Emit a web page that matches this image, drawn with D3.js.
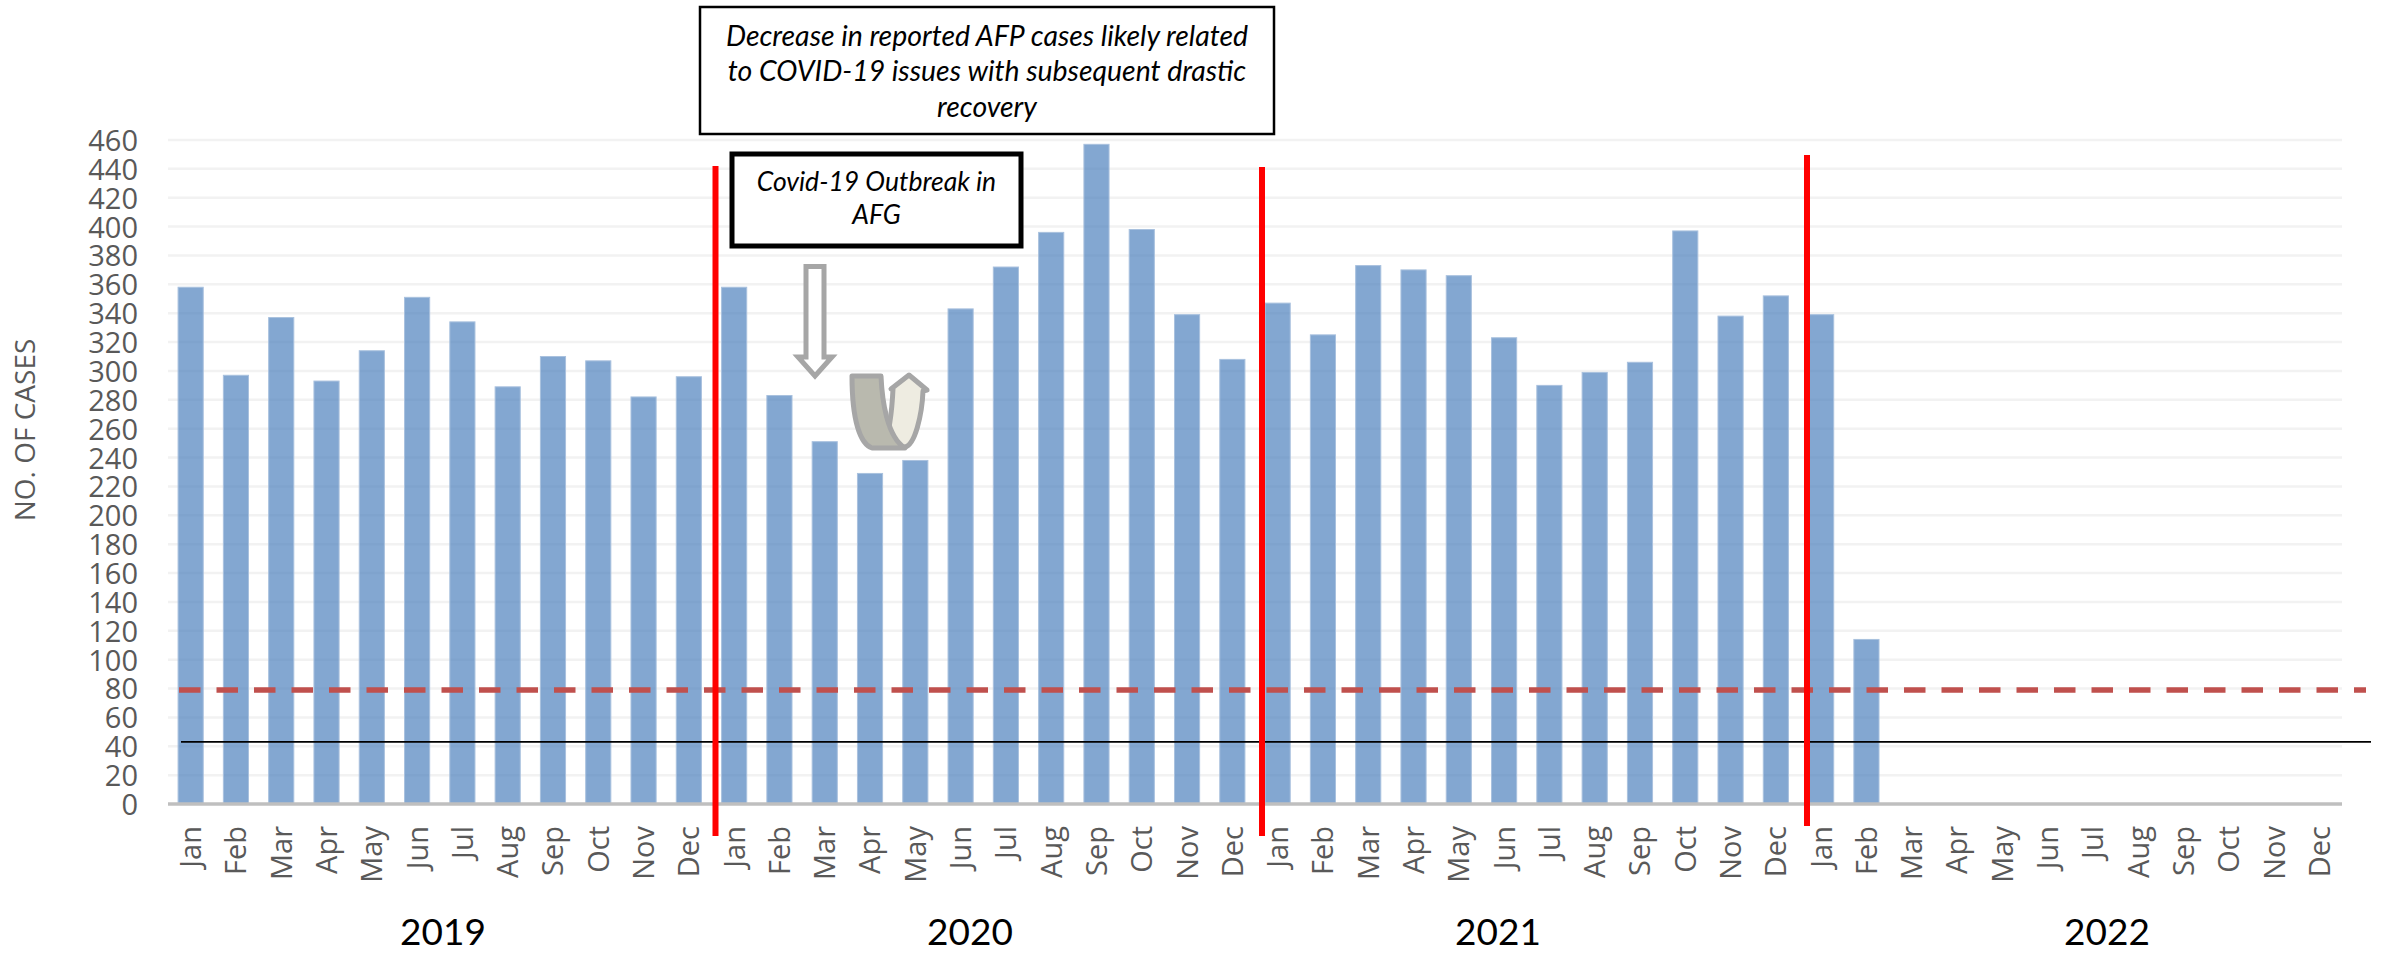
<!DOCTYPE html>
<html><head><meta charset="utf-8">
<script src="https://cdn.jsdelivr.net/npm/d3@7/dist/d3.min.js"></script>
<style>html,body{margin:0;padding:0;background:#fff}svg{display:block}</style></head>
<body><svg id="c" width="2389" height="953"></svg>
<script>
const months=["Jan","Feb","Mar","Apr","May","Jun","Jul","Aug","Sep","Oct","Nov","Dec"];
const years=["2019","2020","2021","2022"];
const cases2019=[358,297,337,293,314,351,334,289,310,307,282,296];
const cases2020=[358,283,251,229,238,343,372,396,457,398,339,308];
const cases2021=[347,325,373,370,366,323,290,299,306,397,338,352];
const cases2022=[339,114];
const dashedLevel=79, blackLevel=43;
const note1=["Decrease in reported AFP cases likely related","to COVID-19 issues with subsequent drastic","recovery"];
const note2=["Covid-19 Outbreak in","AFG"];
const rows=[];
years.forEach((yr,i)=>{const v=[cases2019,cases2020,cases2021,cases2022][i];
  months.forEach((m,j)=>rows.push({key:yr+"-"+m,m,yr,v:v[j]}));});
const svg=d3.select("#c");
const x=d3.scaleBand().domain(rows.map(d=>d.key)).range([168,2342]).paddingInner(0.445).paddingOuter(0.2225);
const y=d3.scaleLinear().domain([0,460]).range([804,140]);
const yTicks=d3.range(0,461,20);
svg.append("g").selectAll("line").data(yTicks.filter(d=>d>0)).join("line")
 .attr("x1",168).attr("x2",2342).attr("y1",d=>y(d)).attr("y2",d=>y(d)).attr("stroke","#f2f2f2").attr("stroke-width",2.5);
svg.append("g").selectAll("rect").data(rows.filter(d=>d.v!=null)).join("rect")
 .attr("x",d=>x(d.key)).attr("width",x.bandwidth()).attr("y",d=>y(d.v)).attr("height",d=>y(0)-y(d.v))
 .attr("fill","#4f81bd").attr("fill-opacity",0.7).attr("stroke","#a9c1de").attr("stroke-width",1);
svg.append("line").attr("x1",168).attr("x2",2342).attr("y1",y(0)).attr("y2",y(0)).attr("stroke","#bfbfbf").attr("stroke-width",3.5);
const gy=svg.append("g").attr("transform","translate(138,0)").call(d3.axisLeft(y).tickValues(yTicks).tickSize(0).tickPadding(0));
gy.select(".domain").remove();
gy.selectAll("text").attr("font-family","'Open Sans'").attr("font-size",29).attr("fill","#595959").attr("dy","0.36em");
const gx=svg.append("g").attr("transform","translate(0,826)").call(d3.axisBottom(x).tickSize(0).tickPadding(0).tickFormat(k=>k.split("-")[1]));
gx.select(".domain").remove();
gx.selectAll("text").attr("font-family","'Open Sans'").attr("font-size",29).attr("fill","#595959")
 .attr("transform","rotate(-90)").attr("text-anchor","end").attr("x",0).attr("y",0).attr("dy","0.36em");
svg.append("text").attr("transform","translate(25,430) rotate(-90)").attr("text-anchor","middle").attr("dy","0.36em")
 .attr("font-family","'Open Sans'").attr("font-size",28).attr("fill","#595959").text("NO. OF CASES");
svg.append("g").selectAll("text").data(years).join("text")
 .attr("x",(d,i)=>[443,970,1498,2107][i]).attr("y",945).attr("text-anchor","middle")
 .attr("font-family","Lato").attr("font-size",37).attr("fill","#000").text(d=>d);
svg.append("line").attr("x1",179).attr("x2",2366).attr("y1",y(dashedLevel)).attr("y2",y(dashedLevel))
 .attr("stroke","#c0504d").attr("stroke-width",5.5).attr("stroke-dasharray","21.5 16");
svg.append("line").attr("x1",181).attr("x2",2371).attr("y1",y(blackLevel)).attr("y2",y(blackLevel))
 .attr("stroke","#000").attr("stroke-width",1.8);
[[715.5,166,836],[1262,167,836],[1807,155,826]].forEach(([a,b,c])=>
 svg.append("line").attr("x1",a).attr("x2",a).attr("y1",b).attr("y2",c).attr("stroke","#ff0000").attr("stroke-width",6));
function box(x0,y0,x1,y1,sw,lines,ys,fs){
 svg.append("rect").attr("x",x0).attr("y",y0).attr("width",x1-x0).attr("height",y1-y0).attr("fill","#fff").attr("stroke","#000").attr("stroke-width",sw);
 svg.append("g").selectAll("text").data(lines).join("text").attr("x",(x0+x1)/2).attr("y",(d,i)=>ys[i]).attr("dy","0.35em")
  .attr("text-anchor","middle").attr("font-family","Lato").attr("font-style","italic").attr("font-size",fs).attr("fill","#000").text(d=>d);
}
box(700,7,1274,134,2.5,note1,[36,71,107],28.4);
box(732,154,1021,246,5,note2,[182,215],26.5);
svg.append("path").attr("d","M806,266.5H824V357H832L815,376L798,357H806Z").attr("fill","#fff").attr("stroke","#a6a6a6").attr("stroke-width",5);
svg.append("path").attr("d","M893,389C892,410 890,430 884,447H905C915,445 922,415 923,391L927,390L909,375L891,389Z").attr("fill","#eeece1").attr("stroke","#a6a6a6").attr("stroke-width",5).attr("stroke-linejoin","round");
svg.append("path").attr("d","M852,376H881C882,400 887,437 905,448H872C860,444 852,420 852,376Z").attr("fill","#b9b9ae").attr("stroke","#a6a6a6").attr("stroke-width",5).attr("stroke-linejoin","round");
</script></body></html>
